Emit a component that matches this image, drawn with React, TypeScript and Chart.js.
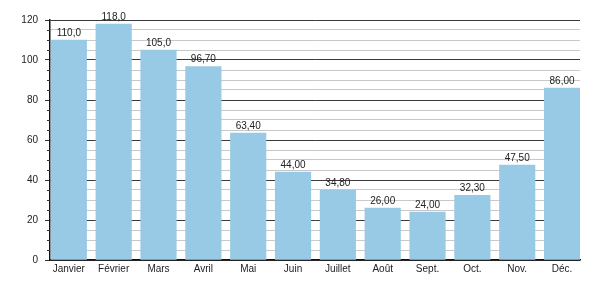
import React, { useEffect, useRef } from "react";
import { Chart, registerables } from "chart.js";

Chart.register(...registerables);

const categories = ["Janvier", "Février", "Mars", "Avril", "Mai", "Juin", "Juillet", "Août", "Sept.", "Oct.", "Nov.", "Déc."];
const values = [110, 118, 105, 96.7, 63.4, 44, 34.8, 26, 24, 32.3, 47.5, 86];
const yMax = 120;
const majorStep = 20;
const minorStep = 5;

const FONT = "'Liberation Sans', Arial, sans-serif";
const fmt = (v: number) => v.toPrecision(4).replace(".", ",");

const valueLabels = {
  id: "valueLabels",
  afterDatasetsDraw(chart: any) {
    const ctx = chart.ctx;
    const meta = chart.getDatasetMeta(0);
    ctx.save();
    ctx.font = `10px ${FONT}`;
    ctx.fillStyle = "#222";
    ctx.textAlign = "center";
    ctx.textBaseline = "alphabetic";
    meta.data.forEach((bar: any, i: number) => {
      ctx.fillText(fmt(values[i]), bar.x, bar.y - 4.5);
    });
    ctx.restore();
  },
};

const minorTicks = {
  id: "minorTicks",
  afterDraw(chart: any) {
    const ctx = chart.ctx;
    const y = chart.scales.y;
    const left = chart.chartArea.left;
    ctx.save();
    ctx.strokeStyle = "#333";
    ctx.lineWidth = 1;
    for (let v = 0; v <= yMax; v += minorStep) {
      if (v % majorStep === 0) continue;
      const py = Math.round(y.getPixelForValue(v)) + 0.5;
      ctx.beginPath();
      ctx.moveTo(left - 3, py);
      ctx.lineTo(left, py);
      ctx.stroke();
    }
    ctx.restore();
  },
};

export default function App() {
  const ref = useRef<HTMLCanvasElement>(null);
  useEffect(() => {
    document.body.style.margin = "0";
    const chart = new Chart(ref.current!, {
      type: "bar",
      data: {
        datasets: [
          {
            data: values.map((v, i) => ({ x: i, y: v })),
            backgroundColor: "#98C9E5",
            borderWidth: 0,
            barThickness: 35.5,
          },
        ],
      },
      options: {
        animation: false,
        responsive: false,
        layout: { padding: { top: 20, right: 20, left: 0, bottom: 0 } },
        plugins: { legend: { display: false }, tooltip: { enabled: false } },
        scales: {
          x: {
            type: "linear",
            min: -0.42,
            max: 11.4,
            offset: false,
            grid: { display: false, drawTicks: false, tickLength: 0 },
            border: { display: true, color: "#111", width: 1.5 },
            afterBuildTicks(scale: any) {
              scale.ticks = categories.map((_, i) => ({ value: i }));
            },
            ticks: {
              color: "#222",
              font: { family: FONT, size: 10 },
              maxRotation: 0,
              autoSkip: false,
              padding: 3,
              callback: (v: any) => categories[Math.round(Number(v))] ?? "",
            },
            afterFit(scale: any) {
              scale.height = 40;
            },
          },
          y: {
            min: 0,
            max: yMax,
            ticks: {
              stepSize: minorStep,
              autoSkip: false,
              color: "#222",
              font: { family: FONT, size: 10 },
              padding: 7,
              callback: (v: any) => (Number(v) % majorStep === 0 ? String(v) : ""),
            },
            grid: {
              color: (c: any) => (c.tick && c.tick.value % majorStep === 0 ? "#3a3a3a" : "#c8c8c8"),
              tickColor: (c: any) => (c.tick && c.tick.value % majorStep === 0 ? "#333" : "rgba(0,0,0,0)"),
              tickLength: 5,
              lineWidth: 1,
            },
            border: { display: true, color: "#111", width: 1.5 },
            afterFit(scale: any) {
              scale.width = 50;
            },
          },
        },
      },
      plugins: [valueLabels, minorTicks],
    });
    return () => chart.destroy();
  }, []);
  return <canvas ref={ref} width={600} height={300} style={{ display: "block" }} />;
}
